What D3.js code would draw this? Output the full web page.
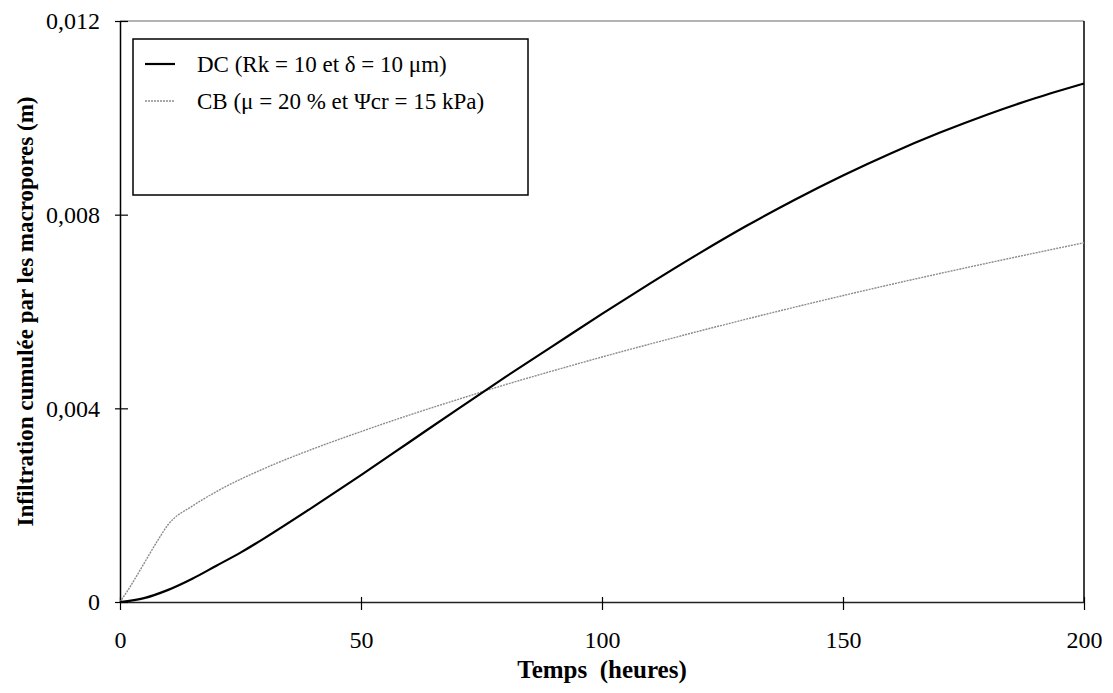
<!DOCTYPE html>
<html>
<head>
<meta charset="utf-8">
<script src="https://cdn.jsdelivr.net/npm/d3@7"></script>
<style>
  html, body { margin: 0; padding: 0; background: #fff; }
  svg text { font-family: "Liberation Serif", "Times New Roman", Tinos, "DejaVu Serif", serif !important; }
</style>
</head>
<body>
<svg id="chart" width="1113" height="693"></svg>
<script>
// Cumulative macropore infiltration (m) versus time (hours)
const timeDC = [0, 5, 10, 15, 20, 25, 30, 40, 50, 60, 70, 80, 90, 100, 110, 120, 130, 140, 150, 160, 170, 180, 190, 200];
const valuesDC = [0, 0.00008, 0.00025, 0.00048, 0.00075, 0.00102, 0.00132, 0.00196, 0.00262, 0.0033, 0.00398, 0.00465, 0.0053, 0.00595, 0.00658, 0.00719, 0.00777, 0.00831, 0.00881, 0.00927, 0.00969, 0.01007, 0.01041, 0.01071];

const timeCB = [0, 2, 5, 8, 10, 15, 20, 30, 40, 50, 60, 70, 80, 90, 100, 120, 140, 160, 180, 200];
const valuesCB = [0, 0.0003, 0.0008, 0.0013, 0.0016, 0.00198, 0.00228, 0.00276, 0.00316, 0.00352, 0.00386, 0.00418, 0.00449, 0.00478, 0.00506, 0.00559, 0.00609, 0.00656, 0.0070, 0.00742];

const xTicks = [0, 50, 100, 150, 200];
const yTicks = [0, 0.004, 0.008, 0.012];
const yTickLabels = ["0", "0,004", "0,008", "0,012"];

const legendLabels = ["DC (Rk = 10 et \u03b4 = 10 \u03bcm)", "CB (\u03bc = 20 % et \u03a8cr = 15 kPa)"];

const FONT = "'Liberation Serif', 'Times New Roman', Tinos, 'DejaVu Serif', serif";

const svg = d3.select("#chart");
const margin = { left: 120, right: 1084, top: 21, bottom: 602 };

const x = d3.scaleLinear().domain([0, 200]).range([margin.left, margin.right]);
const y = d3.scaleLinear().domain([0, 0.012]).range([margin.bottom, margin.top]);

// frame: top edge is light, the right edge dark
svg.append("line")
  .attr("x1", margin.left).attr("x2", margin.right)
  .attr("y1", margin.top).attr("y2", margin.top)
  .attr("stroke", "#9a9a9a").attr("stroke-width", 1.5);
svg.append("line")
  .attr("x1", margin.right).attr("x2", margin.right)
  .attr("y1", margin.top).attr("y2", margin.bottom)
  .attr("stroke", "#000").attr("stroke-width", 1.5);

// axes with ticks crossing the axis line
const xAxis = d3.axisBottom(x).tickValues(xTicks).tickSize(0).tickPadding(0).tickFormat(d => d);
const gx = svg.append("g").attr("transform", `translate(0,${margin.bottom})`).call(xAxis)
  .attr("font-family", FONT);
gx.select(".domain").attr("stroke", "#222").attr("stroke-width", 1.5);
gx.selectAll(".tick line").attr("y1", -5).attr("y2", 8).attr("stroke", "#000").attr("stroke-width", 1.2);
gx.selectAll(".tick text").attr("dy", null).attr("y", 46).attr("font-size", 24)
  .style("font-family", FONT).attr("fill", "#000");

const yAxis = d3.axisLeft(y).tickValues(yTicks).tickSize(0).tickPadding(0)
  .tickFormat((d, i) => yTickLabels[i]);
const gy = svg.append("g").attr("transform", `translate(${margin.left},0)`).call(yAxis)
  .attr("font-family", FONT);
gy.select(".domain").attr("stroke", "#000").attr("stroke-width", 1.5);
gy.selectAll(".tick line").attr("x1", -5).attr("x2", 8).attr("stroke", "#000").attr("stroke-width", 1.2);
gy.selectAll(".tick text").attr("x", -20).attr("dy", "0.32em").attr("font-size", 24)
  .style("font-family", FONT).attr("fill", "#000");

// series
const lineCB = d3.line().x(d => x(d[0])).y(d => y(d[1])).curve(d3.curveMonotoneX);
const lineDC = d3.line().x(d => x(d[0])).y(d => y(d[1])).curve(d3.curveCatmullRom.alpha(0.5));

svg.append("path")
  .datum(timeCB.map((t, i) => [t, valuesCB[i]]))
  .attr("d", lineCB)
  .attr("fill", "none").attr("stroke", "#8c8c8c").attr("stroke-width", 1.4)
  .attr("stroke-dasharray", "2,1");

svg.append("path")
  .datum(timeDC.map((t, i) => [t, valuesDC[i]]))
  .attr("d", lineDC)
  .attr("fill", "none").attr("stroke", "#000").attr("stroke-width", 2.2);

// legend
const lg = svg.append("g");
lg.append("rect")
  .attr("x", 133).attr("y", 39).attr("width", 395).attr("height", 156)
  .attr("fill", "#fff").attr("stroke", "#000").attr("stroke-width", 1.5);
const legendRows = [
  { label: legendLabels[0], stroke: "#000", width: 2.2, dash: null, yPos: 64 },
  { label: legendLabels[1], stroke: "#8c8c8c", width: 1.4, dash: "2,1", yPos: 101 }
];
legendRows.forEach(r => {
  lg.append("line")
    .attr("x1", 145).attr("x2", 175).attr("y1", r.yPos).attr("y2", r.yPos)
    .attr("stroke", r.stroke).attr("stroke-width", r.width)
    .attr("stroke-dasharray", r.dash);
  lg.append("text")
    .attr("x", 197).attr("y", r.yPos).attr("dy", "0.35em")
    .attr("font-size", 23).attr("fill", "#000").style("font-family", FONT)
    .text(r.label);
});

// axis titles
svg.append("text")
  .attr("x", (margin.left + margin.right) / 2).attr("y", 678)
  .attr("text-anchor", "middle").attr("font-size", 25).attr("font-weight", "bold")
  .style("font-family", FONT).style("white-space", "pre")
  .text("Temps  (heures)");

svg.append("text")
  .attr("transform", `translate(33,${(margin.top + margin.bottom) / 2}) rotate(-90)`)
  .attr("text-anchor", "middle").attr("font-size", 23).attr("font-weight", "bold")
  .style("font-family", FONT)
  .text("Infiltration cumulée par les macropores (m)");
</script>
</body>
</html>
